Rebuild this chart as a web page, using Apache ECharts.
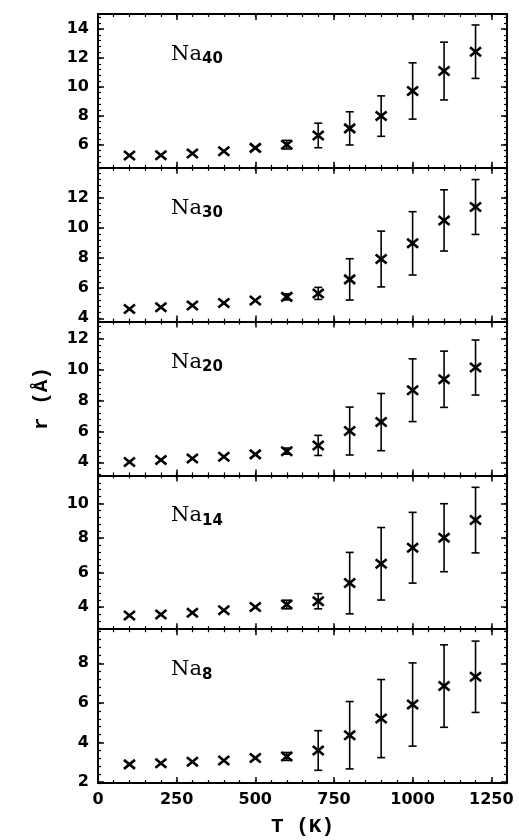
<!DOCTYPE html>
<html>
<head>
<meta charset="utf-8">
<script src="https://cdn.jsdelivr.net/npm/echarts@6/dist/echarts.min.js"></script>
<style>
  html, body { margin: 0; background: #fff; }
  #chart { width: 519px; height: 840px; }
</style>
</head>
<body>
<div id="chart"></div>
<script>
// temperatures (K) where each cluster was sampled
const temps = [100, 200, 300, 400, 500, 600, 700, 800, 900, 1000, 1100, 1200]

// mean radius r (Å) and its spread, per cluster size
const na40 = [5.25, 5.27, 5.39, 5.55, 5.78, 6.0, 6.64, 7.13, 7.98, 9.72, 11.1, 12.44]
const na40Err = [0, 0, 0, 0, 0, 0.3, 0.85, 1.15, 1.4, 1.95, 2.0, 1.85]
const na30 = [4.61, 4.73, 4.84, 5.02, 5.18, 5.42, 5.65, 6.58, 7.93, 8.97, 10.49, 11.38]
const na30Err = [0, 0, 0, 0, 0, 0.2, 0.4, 1.37, 1.85, 2.1, 2.03, 1.82]
const na20 = [4.01, 4.14, 4.25, 4.35, 4.51, 4.72, 5.09, 6.02, 6.6, 8.66, 9.37, 10.13]
const na20Err = [0, 0, 0, 0, 0, 0.2, 0.65, 1.55, 1.85, 2.03, 1.82, 1.78]
const na14 = [3.51, 3.57, 3.67, 3.82, 4.01, 4.15, 4.34, 5.39, 6.51, 7.44, 8.02, 9.04]
const na14Err = [0, 0, 0, 0, 0, 0.25, 0.44, 1.78, 2.1, 2.05, 1.97, 1.9]
const na8 = [2.9, 2.96, 3.03, 3.1, 3.22, 3.3, 3.6, 4.37, 5.21, 5.92, 6.85, 7.32]
const na8Err = [0, 0, 0, 0, 0, 0.2, 1.0, 1.7, 1.97, 2.1, 2.08, 1.8]

const clusterSizes = ['40', '30', '20', '14', '8']
const clusterVals = [na40, na30, na20, na14, na8]
const clusterErrs = [na40Err, na30Err, na20Err, na14Err, na8Err]

// axis ranges
const yMin = [4.4, 3.78, 3.15, 2.72, 1.96]
const yMax = [15.05, 13.98, 13.1, 11.63, 9.72]
const xMin = 0
const xMax = 1300

const panelTop = 14
const panelH = 153.8
const gridLeft = 98
const gridRight = 12

const tickFont = 'DejaVu Sans'
const nameFont = 'Liberation Mono'

function renderPoint(params, api) {
  const x = api.value(0)
  const y = api.value(1)
  const e = api.value(2)
  const c = api.coord([x, y])
  const cross = { stroke: '#000', lineWidth: 2.6 }
  const kids = [
    { type: 'line', shape: { x1: c[0] - 5.5, y1: c[1] - 4.5, x2: c[0] + 5.5, y2: c[1] + 4.5 }, style: cross },
    { type: 'line', shape: { x1: c[0] - 5.5, y1: c[1] + 4.5, x2: c[0] + 5.5, y2: c[1] - 4.5 }, style: cross }
  ]
  if (e > 0) {
    const hi = api.coord([x, y + e])
    const lo = api.coord([x, y - e])
    const bar = { stroke: '#000', lineWidth: 1.6 }
    kids.push({ type: 'line', shape: { x1: c[0], y1: hi[1], x2: c[0], y2: lo[1] }, style: bar })
    kids.push({ type: 'line', shape: { x1: c[0] - 4, y1: hi[1], x2: c[0] + 4, y2: hi[1] }, style: bar })
    kids.push({ type: 'line', shape: { x1: c[0] - 4, y1: lo[1], x2: c[0] + 4, y2: lo[1] }, style: bar })
  }
  return { type: 'group', children: kids }
}

function xAxisCfg(gridIndex, position, major, withLabels) {
  return {
    type: 'value',
    gridIndex,
    position,
    min: xMin,
    max: xMax,
    interval: major ? 250 : 50,
    splitLine: { show: false },
    axisLine: { show: major, onZero: false, lineStyle: { color: '#000', width: 2 } },
    axisTick: { show: true, inside: true, length: major ? 6 : 3, lineStyle: { color: '#000', width: major ? 1.5 : 1.2 } },
    axisLabel: {
      show: withLabels,
      showMaxLabel: false,
      margin: 9,
      color: '#000',
      fontFamily: tickFont,
      fontWeight: 'bold',
      fontSize: 16,
      formatter: v => String(v)
    },
    name: withLabels ? 'T (K)' : '',
    nameLocation: 'middle',
    nameGap: 33,
    nameTextStyle: { color: '#000', fontFamily: nameFont, fontWeight: 'bold', fontSize: 21 }
  }
}

function yAxisCfg(gridIndex, i, position, major, withLabels, withName) {
  const step = major ? 2 : 0.4
  return {
    type: 'value',
    gridIndex,
    position,
    min: yMin[i],
    max: yMax[i],
    minInterval: step,
    maxInterval: step,
    splitNumber: major ? 5 : 30,
    splitLine: { show: false },
    axisLine: { show: major, onZero: false, lineStyle: { color: '#000', width: 2 } },
    axisTick: { show: true, inside: true, length: major ? 6 : 3, lineStyle: { color: '#000', width: major ? 1.5 : 1.2 } },
    axisLabel: {
      show: withLabels,
      showMinLabel: false,
      showMaxLabel: false,
      margin: 9,
      color: '#000',
      fontFamily: tickFont,
      fontWeight: 'bold',
      fontSize: 16,
      formatter: v => String(v)
    },
    name: withName ? 'r (Å)' : '',
    nameLocation: 'middle',
    nameRotate: 90,
    nameGap: 46,
    nameTextStyle: { color: '#000', fontFamily: nameFont, fontWeight: 'bold', fontSize: 21 }
  }
}

const grids = []
const xAxes = []
const yAxes = []
const series = []
const labels = []

clusterSizes.forEach((size, i) => {
  const top = panelTop + i * panelH
  const gMajor = grids.length
  grids.push({ left: gridLeft, right: gridRight, top, height: panelH })
  const gMinor = grids.length
  grids.push({ left: gridLeft, right: gridRight, top, height: panelH })

  const last = i === clusterSizes.length - 1
  const xIdx = xAxes.length
  xAxes.push(xAxisCfg(gMajor, 'bottom', true, last))
  xAxes.push(xAxisCfg(gMajor, 'top', true, false))
  xAxes.push(xAxisCfg(gMinor, 'bottom', false, false))
  xAxes.push(xAxisCfg(gMinor, 'top', false, false))

  const yIdx = yAxes.length
  yAxes.push(yAxisCfg(gMajor, i, 'left', true, true, i === 2))
  yAxes.push(yAxisCfg(gMajor, i, 'right', true, false, false))
  yAxes.push(yAxisCfg(gMinor, i, 'left', false, false, false))
  yAxes.push(yAxisCfg(gMinor, i, 'right', false, false, false))

  series.push({
    type: 'custom',
    name: 'Na' + size,
    xAxisIndex: xIdx,
    yAxisIndex: yIdx,
    renderItem: renderPoint,
    encode: { x: 0, y: 1 },
    data: temps.map((t, k) => [t, clusterVals[i][k], clusterErrs[i][k]]),
    z: 5
  })

  labels.push({
    type: 'text', left: 171, top: top + 30,
    style: { text: 'Na', font: '21px "DejaVu Serif"', fill: '#000' }
  })
  labels.push({
    type: 'text', left: 202, top: top + 38,
    style: { text: size, font: 'bold 15px "DejaVu Sans"', fill: '#000' }
  })
})

const chart = echarts.init(document.getElementById('chart'), null, { renderer: 'canvas' })
chart.setOption({
  animation: false,
  backgroundColor: '#fff',
  grid: grids,
  xAxis: xAxes,
  yAxis: yAxes,
  series,
  graphic: labels
})
</script>
</body>
</html>
